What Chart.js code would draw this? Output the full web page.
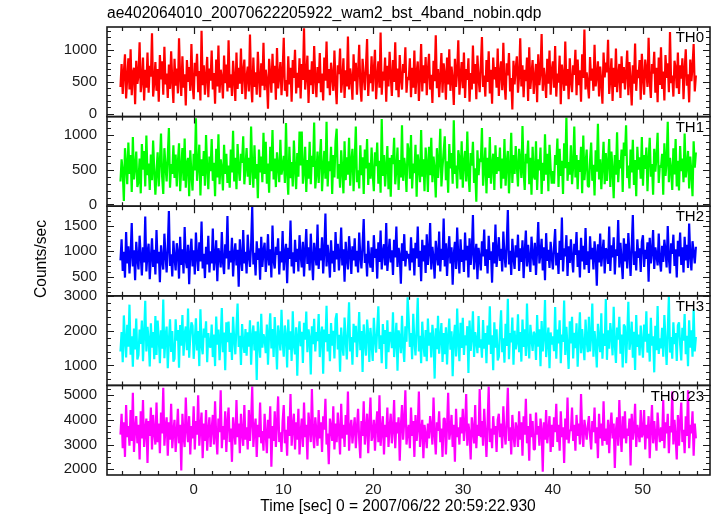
<!DOCTYPE html>
<html>
<head>
<meta charset="utf-8">
<script src="https://cdn.jsdelivr.net/npm/chart.js@4"></script>
<style>
  body { margin: 0; background: #fff; }
  canvas { display: block; }
</style>
</head>
<body>
<canvas id="lc" width="717" height="516"></canvas>
<script>
// time grid of the light curve (sec from 2007/06/22 20:59:22.930)
const tStart = -8.15
const tStep = 0.1254

const th0 = [
  420, 780, 310, 650, 930, 240, 560, 870, 380, 1010, 290, 640, 720, 150, 830, 470,
  600, 1120, 340, 520, 880, 210, 690, 410, 960, 330, 750, 580, 1260, 270, 490, 810,
  360, 700, 190, 920, 540, 820, 300, 1050, 460, 630, 250, 770, 390, 980, 520, 170,
  860, 440, 710, 320, 1180, 560, 280, 900, 410, 620, 130, 840, 500, 730, 360, 1090,
  470, 230, 800, 590, 940, 340, 670, 210, 1300, 450, 760, 300, 580, 890, 260, 710,
  520, 990, 380, 640, 160, 850, 430, 1070, 330, 690, 560, 240, 910, 480, 770, 350,
  1150, 410, 620, 280, 830, 540, 200, 960, 390, 720, 470, 1020, 310, 660, 850, 230,
  580, 740, 350, 1240, 490, 180, 880, 420, 650, 300, 970, 560, 260, 790, 440, 1110,
  370, 690, 520, 80, 860, 610, 330, 940, 480, 750, 220, 1030, 400, 580, 810, 290,
  660, 1190, 360, 530, 270, 900, 460, 720, 190, 840, 560, 1000, 320, 640, 410, 870,
  240, 780, 530, 1340, 380, 600, 910, 170, 690, 450, 820, 310, 1060, 550, 260, 730,
  480, 950, 340, 630, 210, 880, 520, 1130, 400, 700, 290, 800, 590, 360, 990, 470,
  150, 760, 620, 1020, 330, 540, 870, 250, 680, 430, 1210, 380, 710, 560, 220, 930,
  510, 800, 300, 650, 1080, 440, 190, 860, 590, 370, 740, 1170, 280, 620, 480, 900,
  350, 690, 1000, 230, 570, 820, 410, 1270, 300, 660, 520, 880, 190, 750, 430, 970,
  600, 280, 840, 500, 1120, 370, 710, 260, 920, 550, 380, 780, 640, 1040, 330, 580,
  530, 870, 260, 720, 410, 990, 310, 640, 820, 200, 570, 1090, 350, 760, 480, 890,
  290, 680, 940, 380, 610, 170, 830, 510, 1230, 400, 700, 260, 590, 950, 330, 790,
  620, 220, 880, 460, 1010, 360, 740, 540, 140, 860, 420, 670, 1150, 300, 580, 810,
  400, 960, 250, 700, 530, 870, 190, 640, 380, 1070, 470, 780, 230, 910, 560, 340,
  750, 1200, 420, 600, 270, 840, 500, 980, 320, 690, 160, 880, 540, 730, 410, 1020,
  280, 650, 820, 370, 1110, 480, 220, 790, 600, 950, 350, 560, 70, 830, 460, 710,
  900, 330, 590, 1180, 430, 760, 260, 690, 510, 880, 200, 1040, 390, 620, 840, 310,
  570, 780, 180, 930, 450, 640, 1250, 360, 720, 540, 250, 860, 470, 990, 300, 680,
  820, 410, 1060, 270, 630, 490, 910, 150, 770, 580, 360, 1130, 440, 700, 230, 870,
  520, 340, 760, 610, 1000, 290, 850, 450, 680, 190, 930, 560, 1320, 380, 650, 470,
  240, 890, 520, 710, 360, 1080, 430, 600, 820, 270, 740, 490, 160, 960, 570, 800,
  650, 1160, 310, 550, 870, 200, 720, 420, 1020, 340, 610, 780, 250, 900, 480, 730,
  380, 640, 990, 290, 810, 530, 130, 760, 470, 1100, 360, 690, 560, 840, 220, 940,
  590, 300, 850, 680, 420, 1190, 510, 250, 780, 630, 970, 330, 720, 180, 880, 450,
  1040, 390, 660, 210, 920, 560, 790, 340, 1280, 480, 600, 270, 830, 710, 400, 960,
  310, 760, 550, 870, 230, 690, 1010, 440, 620, 180, 850, 510, 740, 1090, 350, 600
]

const th1 = [
  330, 650, 480, 50, 810, 570, 290, 890, 440, 710, 180, 970, 360, 540, 760, 250,
  330, 660, 160, 870, 500, 770, 260, 990, 420, 590, 210, 720, 350, 920, 480, 140,
  470, 750, 260, 610, 1020, 400, 150, 810, 550, 330, 700, 1100, 240, 580, 440, 850,
  380, 720, 260, 610, 880, 190, 530, 810, 340, 950, 240, 590, 670, 120, 780, 430,
  200, 730, 490, 1240, 340, 560, 860, 130, 650, 410, 770, 270, 1000, 510, 220, 690,
  480, 940, 340, 600, 120, 800, 390, 1010, 290, 650, 520, 200, 860, 440, 730, 310,
  560, 240, 790, 460, 1060, 330, 670, 220, 870, 510, 340, 730, 600, 980, 290, 540,
  810, 400, 670, 280, 1120, 520, 240, 850, 370, 580, 90, 790, 460, 690, 320, 1030,
  440, 900, 300, 590, 170, 830, 480, 1070, 360, 660, 250, 750, 550, 320, 930, 430,
  540, 700, 310, 1170, 450, 140, 830, 380, 610, 260, 920, 520, 220, 740, 400, 1050,
  560, 1050, 300, 480, 830, 180, 640, 370, 900, 290, 700, 540, 1180, 230, 450, 760,
  310, 650, 940, 190, 530, 770, 370, 1190, 260, 620, 480, 830, 150, 710, 390, 910,
  1090, 370, 580, 240, 780, 500, 160, 910, 350, 680, 430, 960, 270, 620, 800, 190,
  620, 1120, 320, 490, 230, 850, 420, 680, 150, 790, 520, 940, 280, 600, 370, 820,
  430, 190, 750, 550, 890, 300, 630, 170, 1230, 410, 710, 260, 540, 840, 220, 670,
  110, 710, 580, 960, 290, 500, 820, 210, 640, 390, 1140, 340, 670, 520, 180, 880,
  770, 370, 1000, 230, 590, 450, 860, 110, 720, 540, 320, 1070, 400, 650, 190, 820,
  580, 180, 830, 420, 960, 320, 690, 500, 100, 810, 380, 620, 1090, 260, 540, 760,
  980, 350, 620, 170, 870, 520, 740, 300, 1210, 440, 560, 230, 780, 660, 360, 910,
  240, 610, 770, 330, 1050, 440, 180, 740, 560, 900, 310, 520, 40, 780, 420, 660,
  610, 1100, 270, 510, 820, 160, 670, 380, 970, 300, 570, 730, 210, 850, 440, 680,
  480, 820, 230, 660, 370, 940, 270, 600, 770, 160, 530, 1030, 310, 710, 440, 840,
  550, 260, 800, 630, 380, 1130, 470, 210, 730, 590, 920, 290, 670, 140, 830, 410,
  360, 910, 210, 650, 490, 820, 150, 600, 340, 1010, 430, 730, 190, 860, 520, 300,
  480, 300, 710, 570, 950, 250, 800, 410, 630, 150, 880, 520, 1250, 340, 610, 430,
  850, 290, 550, 1120, 390, 710, 220, 640, 470, 830, 160, 990, 350, 580, 790, 270,
  250, 630, 890, 340, 570, 130, 780, 470, 1160, 360, 650, 220, 550, 900, 290, 740,
  340, 600, 940, 250, 760, 490, 90, 710, 430, 1040, 320, 640, 520, 790, 180, 890,
  700, 1140, 380, 560, 230, 790, 460, 930, 280, 640, 120, 830, 500, 680, 370, 970,
  270, 710, 510, 820, 190, 640, 960, 400, 580, 140, 800, 470, 690, 1030, 310, 560,
  530, 730, 140, 880, 410, 600, 1190, 320, 670, 500, 210, 810, 430, 940, 260, 630,
  200, 840, 480, 660, 320, 1020, 390, 560, 770, 230, 690, 450, 120, 910, 530, 750
]

const th2 = [
  820, 1240, 610, 990, 480, 1380, 760, 1100, 560, 930, 1560, 700, 1020, 430, 1190, 850,
  640, 1310, 910, 520, 1080, 780, 1690, 600, 970, 1150, 450, 880, 1260, 690, 1030, 540,
  1420, 760, 990, 390, 1120, 830, 640, 1350, 920, 580, 1070, 1800, 710, 940, 500, 1210,
  870, 620, 1160, 980, 460, 1290, 730, 1040, 560, 1480, 810, 670, 1130, 350, 960, 1250,
  700, 1020, 540, 1370, 890, 610, 1180, 800, 1590, 660, 950, 470, 1090, 740, 1310, 580,
  1000, 760, 1450, 620, 870, 1220, 410, 1060, 930, 680, 1380, 790, 550, 1140, 860, 1700,
  640, 1010, 780, 1270, 500, 950, 1160, 720, 1030, 300, 1240, 850, 610, 1420, 760, 990,
  560, 1330, 900, 690, 1110, 1880, 740, 970, 520, 1200, 830, 1060, 440, 1290, 690, 1010,
  1170, 590, 880, 1340, 720, 1040, 480, 1510, 810, 660, 1090, 930, 1260, 540, 1000, 780,
  1400, 620, 960, 1150, 370, 1070, 850, 1610, 700, 980, 560, 1230, 790, 1050, 600, 1320,
  910, 680, 1190, 500, 1000, 1440, 750, 1080, 620, 1350, 870, 430, 1170, 940, 720, 1530,
  650, 1060, 820, 1280, 560, 990, 1750, 700, 1130, 880, 480, 1220, 760, 1010, 590, 1380,
  840, 1150, 620, 930, 1470, 720, 1040, 400, 1190, 860, 640, 1300, 980, 550, 1100, 820,
  1260, 700, 1010, 580, 1370, 900, 660, 1120, 1640, 770, 950, 500, 1210, 840, 680, 1080,
  590, 1320, 870, 1050, 460, 1180, 790, 1410, 640, 990, 1140, 720, 1560, 610, 930, 1250,
  780, 1020, 530, 1230, 880, 1490, 690, 1070, 920, 360, 1160, 810, 1340, 700, 1010, 860,
  950, 620, 1280, 780, 1060, 520, 1170, 860, 1490, 690, 1010, 410, 1230, 800, 1120, 570,
  1340, 730, 980, 1560, 640, 1090, 870, 460, 1210, 940, 720, 1390, 600, 1050, 830, 1650,
  700, 1160, 510, 1000, 1300, 760, 1080, 340, 950, 1190, 650, 1470, 880, 560, 1240, 790,
  1030, 590, 1370, 820, 1110, 480, 1260, 730, 990, 1720, 640, 920, 1150, 450, 1070, 860,
  620, 1200, 900, 1430, 710, 1040, 560, 1310, 830, 1000, 380, 1180, 760, 1530, 690, 970,
  1280, 810, 1050, 600, 1390, 920, 680, 1140, 1820, 740, 1010, 530, 1250, 870, 650, 1120,
  880, 1330, 610, 1060, 790, 1220, 470, 990, 1410, 700, 1130, 850, 590, 1290, 940, 720,
  1170, 530, 1020, 1580, 760, 940, 1250, 620, 1080, 430, 1360, 810, 1030, 670, 1190, 890,
  640, 1090, 1440, 720, 970, 550, 1210, 830, 1670, 600, 1060, 900, 1320, 510, 1100, 770,
  1240, 860, 580, 1150, 930, 1380, 690, 1020, 480, 1270, 800, 1110, 640, 1460, 730, 1000,
  570, 1300, 840, 1070, 640, 1200, 960, 320, 1140, 780, 1350, 700, 980, 1230, 560, 1060,
  1010, 750, 1490, 610, 1120, 880, 1280, 540, 1040, 910, 1620, 680, 1170, 820, 450, 1260,
  800, 1150, 660, 1360, 940, 510, 1090, 1720, 730, 1000, 620, 1240, 870, 1060, 590, 1190,
  1320, 690, 1030, 850, 1180, 400, 1270, 760, 990, 1420, 650, 1080, 930, 720, 1350, 810,
  600, 1110, 790, 1230, 1010, 680, 1500, 870, 560, 1160, 950, 1330, 710, 1040, 480, 1210,
  900, 1370, 730, 1080, 580, 1290, 820, 1130, 670, 1550, 900, 620, 1200, 980, 760, 1090
]

const th3 = [
  1400, 1960, 1090, 2440, 1720, 1230, 2170, 1540, 2750, 1310, 1840, 960, 2060, 1460, 2350, 1170,
  1300, 2030, 1620, 2290, 1120, 1910, 2860, 1400, 2110, 1730, 970, 2210, 1510, 1960, 1180, 2420,
  1300, 2290, 1780, 1060, 2010, 1480, 2900, 1210, 1830, 2120, 920, 1700, 2330, 1390, 1990, 1110,
  1190, 2330, 1710, 2020, 930, 2160, 1570, 2450, 1280, 1910, 2120, 1440, 2640, 1220, 1820, 2240,
  2140, 1190, 1720, 2360, 1430, 1990, 980, 2620, 1590, 1320, 2060, 1800, 2270, 1090, 1930, 1550,
  1520, 2180, 1240, 1890, 980, 2410, 1600, 2030, 1150, 1760, 2650, 1380, 1950, 860, 2240, 1670,
  2260, 1390, 1940, 1160, 2400, 1760, 1320, 2100, 2780, 1530, 1850, 1010, 2190, 1660, 1360, 2050,
  1280, 1950, 1540, 2300, 1020, 1830, 2150, 1430, 1980, 580, 2260, 1650, 1220, 2490, 1510, 1900,
  1770, 1350, 2180, 1020, 1930, 2500, 1490, 2050, 1240, 2390, 1710, 880, 2150, 1820, 1430, 2600,
  1690, 1250, 2150, 1860, 940, 2320, 1450, 1980, 1130, 2560, 1570, 1320, 2100, 700, 1850, 2270,
  1550, 1970, 1070, 2230, 1740, 2550, 1380, 2040, 1800, 740, 2130, 1610, 2340, 1400, 1960, 1700,
  2480, 1240, 1860, 2120, 760, 2030, 1670, 2720, 1400, 1900, 1120, 2220, 1570, 2000, 1200, 2340,
  2500, 1460, 1880, 820, 2090, 1590, 1280, 2380, 1760, 1170, 2040, 2820, 1400, 1820, 1020, 2200,
  1660, 2140, 1240, 1810, 2540, 1440, 1990, 810, 2180, 1690, 1280, 2320, 1900, 1100, 2080, 1620,
  1130, 2370, 1760, 1370, 2070, 2700, 1470, 1870, 1060, 2190, 1620, 2020, 900, 2300, 1380, 1950,
  1930, 1500, 2530, 1240, 1700, 2230, 850, 2010, 1800, 1350, 2430, 1560, 1100, 2130, 1680, 2960,
  2310, 1530, 1930, 1180, 2490, 1700, 1290, 2060, 2950, 1400, 1850, 1060, 2260, 1620, 1250, 2020,
  1120, 2350, 1570, 1950, 1230, 2170, 1760, 620, 2070, 1470, 2430, 1340, 1790, 2220, 1100, 1930,
  1320, 2100, 1030, 1830, 2350, 1450, 1980, 690, 1760, 2170, 1260, 2640, 1650, 1120, 2230, 1500,
  2370, 1300, 1870, 1580, 2130, 780, 2290, 1420, 1800, 2560, 1240, 1960, 1710, 1350, 2420, 1510,
  1750, 1220, 2310, 1480, 1930, 1060, 2150, 1600, 2700, 1330, 1870, 860, 2240, 1510, 2040, 1140,
  1250, 1990, 2590, 1380, 1780, 1080, 2200, 1560, 2920, 1180, 1930, 1660, 2380, 1020, 2000, 1460,
  1660, 2470, 1380, 1960, 1110, 2320, 1530, 2040, 1270, 2780, 1650, 1200, 2170, 1780, 1420, 1970,
  1880, 1160, 2450, 1540, 2040, 980, 2280, 1400, 1810, 2880, 1240, 1700, 2090, 920, 1950, 1600,
  1840, 1410, 2680, 1190, 2030, 1630, 2300, 1060, 1890, 1680, 2870, 1300, 2110, 1530, 900, 2270,
  1630, 2400, 1200, 1940, 1500, 2210, 960, 1810, 2530, 1350, 2050, 1590, 1150, 2320, 1720, 1380,
  2400, 1400, 1820, 2780, 1250, 1990, 1620, 940, 2200, 1730, 1380, 2500, 1190, 1920, 1560, 2910,
  1160, 2010, 1480, 2220, 1840, 1290, 2690, 1600, 1070, 2090, 1740, 2400, 1340, 1890, 940, 2180,
  2120, 1060, 1860, 2830, 1450, 1720, 2260, 1220, 1970, 870, 2450, 1530, 1890, 1290, 2150, 1640,
  1220, 2180, 1680, 2560, 1370, 1910, 1110, 2370, 1570, 1840, 800, 2140, 1440, 2710, 1330, 1780,
  1490, 2080, 1250, 2450, 1720, 1010, 1980, 2990, 1370, 1820, 1190, 2240, 1610, 1930, 1130, 2150,
  2240, 1600, 1140, 2080, 1710, 2480, 1320, 1850, 980, 2300, 1510, 2010, 1250, 2620, 1400, 1820
]

const th0123 = [
  3400, 4250, 2850, 3900, 2500, 4600, 3300, 3750, 2950, 4400, 3150, 5100, 2700, 3650, 4150, 3050,
  3800, 2400, 4350, 3250, 4800, 2900, 3600, 4050, 2250, 3950, 3350, 4500, 2800, 4200, 3500, 3000,
  4700, 3100, 3850, 2650, 4300, 3450, 5300, 2950, 3700, 4100, 2550, 3900, 3200, 4650, 2850, 3550,
  4000, 2700, 3500, 4450, 3050, 3800, 1950, 4250, 3350, 2900, 4900, 3600, 3100, 4150, 2600, 3750,
  3250, 4550, 2800, 3950, 3400, 5000, 2950, 3700, 4300, 2450, 3850, 3150, 4400, 2750, 3600, 4100,
  2900, 3650, 4200, 3000, 4750, 3350, 2600, 4050, 3500, 5200, 2850, 3750, 3200, 4350, 2700, 3900,
  4500, 3100, 3650, 2300, 4100, 3550, 3000, 4800, 3300, 3850, 2650, 4250, 3450, 2950, 4600, 3200,
  3700, 2800, 4400, 3150, 3950, 5350, 2900, 3600, 4050, 2500, 3800, 3300, 4700, 3050, 3550, 2750,
  4250, 3400, 2650, 4000, 3250, 4550, 2100, 3750, 3150, 4350, 2900, 3850, 4950, 3100, 3500, 2700,
  3950, 4600, 3050, 3600, 2550, 4150, 3350, 5050, 2950, 3700, 4250, 2800, 3900, 3200, 4450, 2600,
  3500, 4050, 2900, 4700, 3300, 3800, 2400, 4300, 3650, 3100, 5250, 3450, 2850, 4100, 3550, 2950,
  4400, 3250, 3900, 2700, 4150, 3600, 4850, 3000, 3450, 2200, 4050, 3700, 3150, 4550, 2800, 3850,
  3100, 4300, 3550, 2600, 4650, 3250, 3800, 2900, 4200, 3400, 5150, 2750, 3650, 4000, 3050, 3600,
  4100, 2850, 3700, 4450, 3200, 2450, 3950, 3350, 4750, 3000, 3600, 4250, 2650, 3850, 4900, 3150,
  3400, 4000, 2750, 3750, 4350, 3100, 5000, 2950, 3550, 4150, 2600, 3800, 3300, 4500, 2900, 3700,
  4250, 3050, 3600, 4800, 2850, 3900, 3450, 4100, 2350, 3750, 4600, 3200, 3950, 5200, 3000, 3500,
  3800, 2850, 4500, 3350, 3950, 2500, 4200, 3150, 3650, 5150, 2900, 3550, 4000, 2450, 3800, 3400,
  2850, 3850, 3250, 4150, 3700, 3000, 4900, 3450, 2600, 3900, 3550, 4350, 3100, 3650, 2500, 4050,
  4050, 2600, 3700, 5100, 3200, 3550, 4200, 2900, 3800, 2300, 4450, 3300, 3700, 3000, 4100, 3450,
  4450, 3150, 3700, 5050, 2950, 3850, 3450, 2400, 4100, 3600, 3050, 4600, 2850, 3800, 3350, 5250,
  3300, 3950, 2950, 4450, 3550, 2500, 3850, 5350, 3100, 3650, 2850, 4150, 3400, 3750, 2700, 4000,
  4250, 3300, 3850, 2850, 4550, 3500, 3000, 3950, 5300, 3150, 3700, 2600, 4200, 3400, 2900, 3900,
  3650, 2900, 4350, 3200, 3900, 2550, 4150, 3400, 4850, 3050, 3750, 2350, 4250, 3300, 3950, 2800,
  2800, 4300, 3400, 3750, 2950, 4050, 3600, 1900, 3900, 3200, 4400, 3050, 3550, 4150, 2700, 3800,
  2900, 4100, 3500, 4650, 3100, 3800, 2750, 4350, 3300, 3700, 2250, 4050, 3200, 4900, 3050, 3600,
  3550, 4500, 3150, 3800, 2750, 4200, 3350, 3850, 3000, 5050, 3500, 2900, 4000, 3600, 3200, 3750,
  4150, 3350, 2800, 3950, 3500, 4500, 3050, 3700, 2450, 4250, 3250, 3850, 2950, 4750, 3150, 3650,
  3000, 4000, 2650, 3700, 4300, 3250, 3850, 2050, 3600, 4100, 2950, 4800, 3450, 2700, 4150, 3250,
  4350, 3050, 3650, 3350, 4050, 2150, 4250, 3200, 3600, 4650, 2900, 3800, 3500, 3100, 4400, 3300,
  3450, 4400, 2800, 3800, 3250, 4150, 2450, 3650, 4600, 3050, 3950, 3350, 2750, 4300, 3550, 3100,
  3700, 3150, 4800, 2850, 3900, 3450, 4250, 2650, 3750, 3500, 5150, 3000, 4000, 3300, 2400, 4200,
  2950, 3900, 4700, 3100, 3600, 2650, 4150, 3350, 5200, 2850, 3800, 3450, 4350, 2550, 3850, 3250
]

const bandNames = ["TH0", "TH1", "TH2", "TH3", "TH0123"]
const xTickValues = [0, 10, 20, 30, 40, 50]
const yTicks0 = [0, 500, 1000]
const yTicks1 = [0, 500, 1000]
const yTicks2 = [500, 1000, 1500]
const yTicks3 = [1000, 2000, 3000]
const yTicks4 = [2000, 3000, 4000, 5000]

const fontFamily = "'Liberation Sans', Arial, Helvetica, sans-serif"
const ink = "#1a1a1a"

var panels = [
  { id: "y0", data: th0, ticks: yTicks0, min: -43, max: 1358, major: 500, minor: 100, colour: "#ff0000" },
  { id: "y1", data: th1, ticks: yTicks1, min: -25, max: 1264, major: 500, minor: 100, colour: "#00ff00" },
  { id: "y2", data: th2, ticks: yTicks2, min: 119, max: 1894, major: 500, minor: 100, colour: "#0000ff" },
  { id: "y3", data: th3, ticks: yTicks3, min: 424, max: 3005, major: 1000, minor: 200, colour: "#00ffff" },
  { id: "y4", data: th0123, ticks: yTicks4, min: 1767, max: 5396, major: 1000, minor: 250, colour: "#ff00ff" }
]

function toPoints(values) {
  return values.map((v, i) => ({ x: tStart + i * tStep, y: v }))
}

var scales = {
  x: {
    type: "linear",
    position: "bottom",
    min: -9.65,
    max: 57.5,
    grid: { display: false, drawTicks: false },
    border: { display: false },
    afterBuildTicks: s => { s.ticks = xTickValues.map(v => ({ value: v })) },
    afterFit: s => { s.height = 41 },
    ticks: { color: ink, font: { family: fontFamily, size: 15 }, padding: 6, maxRotation: 0, autoSkip: false }
  }
}
// stacked axes are laid out bottom first, so add them from the last panel up
panels.slice().reverse().forEach(p => {
  scales[p.id] = {
    type: "linear",
    position: "left",
    stack: "lightcurve",
    stackWeight: 1,
    min: p.min,
    max: p.max,
    grid: { display: false, drawTicks: false },
    border: { display: false },
    afterBuildTicks: s => { s.ticks = p.ticks.map(v => ({ value: v })) },
    afterFit: s => { s.width = 107 },
    ticks: { color: ink, font: { family: fontFamily, size: 15 }, padding: 10, autoSkip: false, callback: v => String(v) }
  }
})

// PGPLOT-like frame: boxes, inward ticks, band names and axis titles
const framePlugin = {
  id: "frame",
  afterDraw(chart) {
    const ctx = chart.ctx
    const area = chart.chartArea
    const xs = chart.scales.x
    const left = area.left, right = area.right
    ctx.save()
    ctx.strokeStyle = ink
    panels.forEach((p, idx) => {
      const ys = chart.scales[p.id]
      const top = ys.top, bottom = ys.bottom
      ctx.lineWidth = 1.2
      ctx.beginPath()
      for (let v = Math.ceil(p.min / p.minor) * p.minor; v <= p.max; v += p.minor) {
        const py = Math.round(ys.getPixelForValue(v)) + 0.5
        const len = (Math.abs(v) % p.major === 0) ? 7 : 4
        ctx.moveTo(left, py)
        ctx.lineTo(left + len, py)
        ctx.moveTo(right, py)
        ctx.lineTo(right - len, py)
      }
      for (let t = -8; t <= 56; t += 2) {
        const px = Math.round(xs.getPixelForValue(t)) + 0.5
        const len = (Math.abs(t) % 10 === 0) ? 7 : 4
        ctx.moveTo(px, top)
        ctx.lineTo(px, top + len)
        ctx.moveTo(px, bottom)
        ctx.lineTo(px, bottom - len)
      }
      ctx.stroke()
      ctx.lineWidth = 1.6
      ctx.strokeRect(left, top, right - left, bottom - top)

      ctx.fillStyle = "#000"
      ctx.font = "15px " + fontFamily
      ctx.textAlign = "right"
      ctx.textBaseline = "middle"
      ctx.fillText(bandNames[idx], right - 6, top + 11)
    })

    ctx.fillStyle = "#000"
    ctx.font = "15.6px " + fontFamily
    ctx.textBaseline = "middle"
    ctx.textAlign = "left"
    ctx.fillText("ae402064010_20070622205922_wam2_bst_4band_nobin.qdp", 107, 14)
    ctx.textAlign = "center"
    ctx.fillText("Time [sec] 0 = 2007/06/22 20:59:22.930", 398, 507)
    ctx.translate(42, 259)
    ctx.rotate(-Math.PI / 2)
    ctx.fillText("Counts/sec", 0, 0)
    ctx.restore()
  }
}

var chart = new Chart(document.getElementById("lc"), {
  type: "line",
  data: {
    datasets: panels.map((p, idx) => ({
      label: bandNames[idx],
      data: toPoints(p.data),
      borderColor: p.colour,
      borderWidth: 2.2,
      borderJoinStyle: "bevel",
      pointRadius: 0,
      tension: 0,
      xAxisID: "x",
      yAxisID: p.id
    }))
  },
  options: {
    responsive: false,
    animation: false,
    devicePixelRatio: 1,
    layout: { padding: { top: 27, right: 7, left: 0, bottom: 0 } },
    plugins: {
      legend: { display: false },
      tooltip: { enabled: false },
      title: { display: false }
    },
    scales: scales
  },
  plugins: [framePlugin]
});
</script>
</body>
</html>
